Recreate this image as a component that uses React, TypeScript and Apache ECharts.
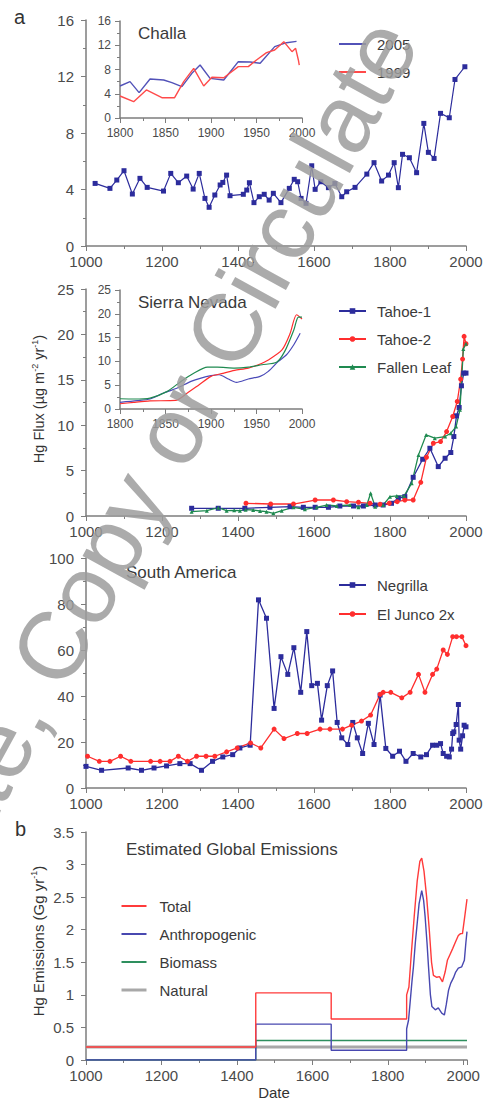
import React, { useEffect, useRef } from "react";
import * as echarts from "echarts";

// ---------- DATA ----------
// Panel a, Challa (main, 2005 core) [year, Hg flux]
const challaMain: number[][] = [
  [1024, 4.43], [1063, 4.08], [1081, 4.67], [1100, 5.33], [1122, 3.68], [1142, 4.79], [1161, 4.15],
  [1204, 3.89], [1223, 5.14], [1243, 4.48], [1265, 4.95], [1282, 4.03], [1298, 5.14], [1313, 3.37],
  [1324, 2.74], [1339, 3.61], [1353, 4.32], [1360, 4.5], [1370, 5.02], [1379, 3.56], [1414, 3.66],
  [1423, 3.96], [1430, 4.48], [1442, 3.07], [1456, 3.49], [1469, 3.66], [1482, 3.25], [1493, 3.73],
  [1513, 3.07], [1535, 4.08], [1548, 4.72], [1557, 4.55], [1566, 3.37], [1579, 3.02], [1594, 5.68],
  [1603, 4.01], [1618, 4.55], [1638, 4.13], [1655, 4.43], [1673, 3.49], [1686, 3.84], [1708, 4.15],
  [1739, 5.09], [1758, 5.9], [1778, 4.6], [1796, 5.02], [1811, 5.9], [1822, 4.13], [1833, 6.49],
  [1851, 6.25], [1870, 5.19], [1889, 8.68], [1901, 6.63], [1916, 6.2], [1933, 9.39], [1956, 9.08],
  [1971, 11.79], [1997, 12.69],
];
const challaInset2005: number[][] = [
  [1800, 5.28], [1811, 6.0], [1821, 4.18], [1833, 6.43], [1848, 6.27], [1857, 5.83], [1868, 5.17],
  [1879, 7.37], [1888, 8.74], [1899, 6.54], [1914, 6.27], [1930, 9.29], [1943, 9.24], [1954, 9.02],
  [1970, 11.77], [1983, 12.42], [1994, 12.64],
];
const challaInset1999: number[][] = [
  [1800, 3.63], [1815, 2.69], [1829, 4.62], [1846, 3.35], [1860, 3.35], [1870, 5.99], [1881, 8.19],
  [1892, 5.28], [1901, 6.71], [1914, 6.65], [1930, 8.47], [1941, 8.47], [1950, 9.57], [1961, 10.78],
  [1970, 11.21], [1980, 12.59], [1989, 10.94], [1993, 11.49], [1996, 9.57], [1997, 8.74],
];

// Sierra Nevada
const tahoe1: number[][] = [
  [1278, 0.85], [1348, 0.85], [1418, 0.85], [1484, 0.96], [1537, 1.03], [1572, 0.96], [1603, 0.96],
  [1638, 0.96], [1668, 1.1], [1704, 1.1], [1730, 1.1], [1761, 1.21], [1782, 1.21], [1804, 1.4],
  [1822, 1.95], [1839, 2.13], [1861, 4.26], [1886, 6.25], [1905, 7.46], [1927, 5.44], [1945, 6.36],
  [1960, 6.99], [1968, 8.75], [1975, 11.03], [1982, 11.95], [1988, 14.34], [1994, 15.74], [2000, 15.74],
];
const tahoe2: number[][] = [
  [1421, 1.4], [1486, 1.32], [1546, 1.32], [1603, 1.76], [1651, 1.76], [1686, 1.58], [1717, 1.51],
  [1747, 1.4], [1774, 1.29], [1798, 1.4], [1819, 1.58], [1839, 1.76], [1861, 1.76], [1881, 3.71],
  [1896, 6.47], [1914, 8.01], [1933, 8.2], [1949, 9.3], [1965, 10.96], [1977, 12.61], [1986, 15.07],
  [1991, 17.28], [1995, 19.78], [2000, 18.97],
];
const fallenLeaf: number[][] = [
  [1278, 0.48], [1318, 0.59], [1348, 0.92], [1370, 0.59], [1390, 0.62], [1405, 0.59], [1420, 0.7],
  [1440, 0.66], [1458, 0.55], [1475, 0.48], [1493, 0.29], [1515, 0.59], [1546, 0.96], [1576, 0.74],
  [1607, 0.96], [1633, 1.21], [1660, 1.1], [1695, 1.21], [1717, 0.96], [1739, 1.21], [1749, 2.5],
  [1761, 1.03], [1782, 1.21], [1800, 2.13], [1818, 2.21], [1837, 2.21], [1857, 3.6], [1875, 6.73],
  [1895, 8.93], [1918, 8.57], [1945, 8.75], [1960, 9.12], [1974, 9.85], [1984, 11.69], [1993, 18.38],
  [2000, 18.97],
];
const tahoe1Inset: number[][] = [
  [1800, 1.4], [1819, 1.75], [1833, 2.1], [1848, 3.35], [1863, 4.4], [1878, 5.8], [1889, 6.5],
  [1900, 7.0], [1909, 7.2], [1919, 6.3], [1928, 5.6], [1941, 6.3], [1954, 6.85], [1963, 7.9],
  [1974, 10.0], [1983, 11.4], [1991, 13.5], [1998, 15.9],
];
const tahoe2Inset: number[][] = [
  [1800, 1.1], [1815, 1.4], [1833, 1.7], [1861, 1.8], [1874, 3.35], [1887, 5.1], [1900, 6.85],
  [1913, 7.5], [1926, 8.1], [1941, 8.6], [1952, 9.3], [1963, 10.3], [1978, 12.4], [1987, 15.9],
  [1994, 19.8], [2000, 18.9],
];
const fallenLeafInset: number[][] = [
  [1800, 2.15], [1815, 2.1], [1833, 2.3], [1852, 3.7], [1867, 5.8], [1881, 7.5], [1896, 8.8],
  [1907, 8.8], [1926, 8.6], [1941, 8.8], [1956, 9.3], [1972, 9.8], [1981, 12.1], [1991, 16.6],
  [1996, 19.3], [2000, 19.3],
];

// South America
const negrilla: number[][] = [
  [1000, 9.4], [1041, 7.7], [1111, 8.7], [1146, 7.7], [1179, 8.7], [1212, 9.6], [1247, 10.6],
  [1274, 10.6], [1304, 7.7], [1333, 11.6], [1360, 13.5], [1386, 14.5], [1405, 17.4], [1432, 18.6],
  [1454, 81.8], [1475, 73.8], [1495, 34.6], [1513, 57.1], [1531, 49.4], [1547, 61.0], [1565, 41.6],
  [1581, 68.0], [1594, 44.5], [1609, 45.5], [1620, 29.5], [1635, 44.5], [1649, 50.9], [1661, 28.5],
  [1673, 21.8], [1689, 18.9], [1702, 28.5], [1714, 21.8], [1728, 15.0], [1743, 28.1], [1758, 18.9],
  [1774, 40.4], [1789, 17.2], [1807, 13.8], [1825, 16.0], [1842, 11.6], [1861, 15.0], [1881, 13.5],
  [1896, 14.5], [1912, 18.6], [1923, 18.6], [1933, 19.3], [1940, 15.0], [1949, 13.8], [1956, 13.5],
  [1962, 16.9], [1965, 23.7], [1968, 24.4], [1974, 27.6], [1980, 36.3], [1982, 20.8], [1986, 16.9],
  [1991, 22.7], [1995, 27.3], [2000, 26.6],
];
const elJunco: number[][] = [
  [1004, 13.8], [1035, 11.6], [1063, 11.6], [1091, 13.8], [1118, 11.6], [1170, 11.6], [1195, 11.6],
  [1221, 11.6], [1243, 13.8], [1267, 11.6], [1291, 13.8], [1316, 13.8], [1339, 13.8], [1370, 15.7],
  [1398, 17.4], [1433, 19.6], [1460, 17.4], [1495, 25.6], [1521, 21.5], [1556, 23.7], [1582, 23.7],
  [1616, 25.6], [1642, 25.6], [1675, 25.6], [1699, 27.3], [1725, 29.1], [1749, 31.7], [1774, 40.7],
  [1782, 41.6], [1802, 41.6], [1831, 39.2], [1853, 41.6], [1875, 49.4], [1892, 41.6], [1912, 49.4],
  [1923, 51.7], [1940, 60.0], [1951, 58.1], [1965, 65.8], [1975, 65.8], [1989, 65.8], [2000, 61.9],
];

// Estimated global emissions (Gg/yr)
const emisTotal: number[][] = [
  [1000, 0.2], [1450, 0.2], [1450, 1.03], [1650, 1.03], [1650, 0.63], [1850, 0.63], [1850, 1.0],
  [1856, 1.12], [1862, 1.6], [1870, 2.2], [1878, 2.75], [1885, 3.05], [1890, 3.1], [1896, 2.9],
  [1903, 2.5], [1910, 2.0], [1916, 1.5], [1921, 1.3], [1930, 1.27], [1937, 1.28], [1945, 1.2],
  [1952, 1.35], [1958, 1.53], [1965, 1.62], [1972, 1.71], [1980, 1.82], [1987, 1.91], [1993, 1.94],
  [1998, 1.94], [2004, 2.2], [2010, 2.47],
];
const emisAnthro: number[][] = [
  [1000, 0], [1450, 0], [1450, 0.55], [1650, 0.55], [1650, 0.15], [1850, 0.15], [1850, 0.48],
  [1855, 0.61], [1859, 0.87], [1864, 1.2], [1868, 1.43], [1873, 1.8], [1877, 2.04], [1883, 2.4],
  [1890, 2.6], [1895, 2.45], [1899, 2.2], [1904, 1.8], [1908, 1.43], [1913, 1.0], [1917, 0.82],
  [1926, 0.77], [1934, 0.8], [1943, 0.72], [1950, 0.69], [1955, 0.85], [1961, 1.07], [1967, 1.18],
  [1974, 1.26], [1980, 1.35], [1987, 1.41], [1996, 1.43], [2003, 1.53], [2007, 1.8], [2010, 1.97],
];
const emisBiomass: number[][] = [[1000, 0], [1450, 0], [1450, 0.3], [2010, 0.3]];
const emisNatural: number[][] = [[1000, 0.2], [2010, 0.2]];

// ---------- STYLE ----------
const FONT = "'Liberation Sans', Arial, Helvetica, sans-serif";
const AXIS = "#7d7d7d";
const LABEL = "#4a4a4a";
const BLUE = "#2c2c9c";
const RED = "#ff2e2e";
const GREEN = "#1f8a50";

function xAx(gridIndex: number, min: number, max: number, interval: number, fs: number, margin: number) {
  return {
    type: "value", gridIndex, min, max, interval,
    axisLine: { show: true, onZero: false, lineStyle: { color: AXIS, width: 1.5 } },
    axisTick: { show: true, length: 5, lineStyle: { color: AXIS } },
    minorTick: { show: true, splitNumber: 2, length: 3, lineStyle: { color: AXIS } },
    splitLine: { show: false },
    axisLabel: {
      color: LABEL, fontSize: fs, fontFamily: FONT, margin,
      formatter: (v: number) => (v % interval === 0 && v <= 2000 ? String(v) : ""),
    },
  };
}
function yAx(gridIndex: number, min: number, max: number, interval: number, fs: number, margin: number, minor = true) {
  return {
    type: "value", gridIndex, min, max, interval,
    axisLine: { show: true, onZero: false, lineStyle: { color: AXIS, width: 1.5 } },
    axisTick: { show: true, length: 5, lineStyle: { color: AXIS } },
    minorTick: { show: minor, splitNumber: 2, length: 3, lineStyle: { color: AXIS } },
    splitLine: { show: false },
    axisLabel: { color: LABEL, fontSize: fs, fontFamily: FONT, margin },
  };
}

function lineSeries(name: string, data: number[][], xi: number, color: string, opts: any = {}) {
  return {
    type: "line", name, data, xAxisIndex: xi, yAxisIndex: xi,
    symbol: opts.symbol ?? "none", symbolSize: opts.symbolSize ?? 5,
    showSymbol: opts.symbol ? true : false,
    smooth: opts.smooth ?? false,
    lineStyle: { color, width: opts.width ?? 1.3 },
    itemStyle: { color },
    z: opts.z ?? 2,
    silent: true,
  };
}

const legendText = { color: "#3a3a3a", fontSize: 15, fontFamily: FONT, lineHeight: 16, padding: [0, 0, 0, 6] };

export default function App() {
  const ref = useRef<HTMLDivElement>(null);
  useEffect(() => {
    if (!ref.current) return;
    const chart = echarts.init(ref.current, undefined, { renderer: "svg" });
    const grids = [
      { left: 86, top: 20, width: 380, height: 226 },
      { left: 120, top: 21, width: 182, height: 97 },
      { left: 86, top: 289, width: 380, height: 227 },
      { left: 120, top: 290, width: 182, height: 119 },
      { left: 86, top: 558, width: 380, height: 230 },
      { left: 86, top: 832, width: 381, height: 228 },
    ].map((g) => ({ ...g, containLabel: false, outerBoundsMode: "none" }));

    const option: any = {
      animation: false,
      backgroundColor: "#ffffff",
      grid: grids,
      xAxis: [
        xAx(0, 1000, 2000, 200, 15, 8),
        xAx(1, 1800, 2000, 50, 12, 9),
        xAx(2, 1000, 2000, 200, 15, 8),
        xAx(3, 1800, 2000, 50, 12, 9),
        xAx(4, 1000, 2000, 200, 15, 8),
        xAx(5, 1000, 2010, 200, 15, 8),
      ],
      yAxis: [
        yAx(0, 0, 16, 4, 15, 12),
        yAx(1, 0, 16, 4, 12, 9),
        yAx(2, 0, 25, 5, 15, 12),
        yAx(3, 0, 25, 5, 12, 9),
        yAx(4, 0, 100, 20, 15, 12),
        yAx(5, 0, 3.5, 0.5, 15, 12, false),
      ],
      legend: [
        {
          data: ["2005", "1999"], orient: "vertical", left: 333, top: 31, itemWidth: 27, itemHeight: 7,
          itemGap: 12, textStyle: legendText, selectedMode: false, itemStyle: { opacity: 0 },
        },
        {
          data: ["Tahoe-1", "Tahoe-2", "Fallen Leaf"], orient: "vertical", left: 333, top: 298, itemWidth: 27,
          itemHeight: 7, itemGap: 12, textStyle: legendText, selectedMode: false,
        },
        {
          data: ["Negrilla", "El Junco 2x"], orient: "vertical", left: 333, top: 572, itemWidth: 27,
          itemHeight: 7, itemGap: 13, textStyle: legendText, selectedMode: false,
        },
        {
          data: ["Total", "Anthropogenic", "Biomass", { name: "Natural", lineStyle: { width: 3 } }],
          orient: "vertical", left: 115, top: 893,
          itemWidth: 25, itemHeight: 7, itemGap: 12, textStyle: { ...legendText, padding: [0, 0, 0, 8] },
          selectedMode: false, itemStyle: { opacity: 0 },
        },
      ],
      series: [
        lineSeries("Challa 2005 core", challaMain, 0, BLUE, { symbol: "rect", symbolSize: 5, width: 1.2 }),
        lineSeries("2005", challaInset2005, 1, "#5252b8", { width: 1.4 }),
        lineSeries("1999", challaInset1999, 1, "#ff4a4a", { width: 1.4 }),
        lineSeries("Tahoe-1", tahoe1, 2, BLUE, { symbol: "rect", symbolSize: 5 }),
        lineSeries("Tahoe-2", tahoe2, 2, RED, { symbol: "circle", symbolSize: 5 }),
        lineSeries("Fallen Leaf", fallenLeaf, 2, GREEN, { symbol: "triangle", symbolSize: 4 }),
        lineSeries("Tahoe-1", tahoe1Inset, 3, "#4a4ab8", { smooth: 0.25, width: 1.2 }),
        lineSeries("Tahoe-2", tahoe2Inset, 3, RED, { smooth: 0.25, width: 1.2 }),
        lineSeries("Fallen Leaf", fallenLeafInset, 3, GREEN, { smooth: 0.25, width: 1.2 }),
        lineSeries("Negrilla", negrilla, 4, BLUE, { symbol: "rect", symbolSize: 5 }),
        lineSeries("El Junco 2x", elJunco, 4, RED, { symbol: "circle", symbolSize: 5 }),
        lineSeries("Natural", emisNatural, 5, "#a8a8a8", { width: 3 }),
        lineSeries("Biomass", emisBiomass, 5, "#2e8f5e", { width: 1.4 }),
        lineSeries("Anthropogenic", emisAnthro, 5, "#4848b0", { width: 1.4 }),
        lineSeries("Total", emisTotal, 5, "#ff3b3b", { width: 1.4, z: 3 }),
      ],
      graphic: {
        elements: [
          { type: "text", left: 14, top: 7, style: { text: "a", fontSize: 20, fontFamily: FONT, fill: "#333" } },
          { type: "text", left: 15, top: 819, style: { text: "b", fontSize: 20, fontFamily: FONT, fill: "#333" } },
          { type: "text", x: 138, y: 33, style: { text: "Challa", fontSize: 17, fontFamily: FONT, fill: "#3a3a3a", textVerticalAlign: "middle" } },
          { type: "text", x: 138, y: 302, style: { text: "Sierra Nevada", fontSize: 17, fontFamily: FONT, fill: "#3a3a3a", textVerticalAlign: "middle" } },
          { type: "text", x: 126, y: 572, style: { text: "South America", fontSize: 17, fontFamily: FONT, fill: "#3a3a3a", textVerticalAlign: "middle" } },
          { type: "text", x: 126, y: 849, style: { text: "Estimated Global Emissions", fontSize: 17, fontFamily: FONT, fill: "#3a3a3a", textVerticalAlign: "middle" } },
          {
            type: "text", x: 39, y: 399, rotation: Math.PI / 2,
            style: {
              text: "{a|Hg Flux (µg m}{s|-2}{a| yr}{s|-1}{a|)}",
              textAlign: "center", textVerticalAlign: "middle",
              rich: {
                a: { fontSize: 14.5, fontFamily: FONT, fill: "#333", color: "#333" },
                s: { fontSize: 9, fontFamily: FONT, fill: "#333", color: "#333", verticalAlign: "top", padding: [0, 0, 8, 0] },
              },
            },
          },
          {
            type: "text", x: 38, y: 941, rotation: Math.PI / 2,
            style: {
              text: "{a|Hg Emissions (Gg yr}{s|-1}{a|)}",
              textAlign: "center", textVerticalAlign: "middle",
              rich: {
                a: { fontSize: 15, fontFamily: FONT, fill: "#333", color: "#333" },
                s: { fontSize: 9, fontFamily: FONT, fill: "#333", color: "#333", verticalAlign: "top", padding: [0, 0, 8, 0] },
              },
            },
          },
          { type: "text", x: 274, y: 1092, style: { text: "Date", fontSize: 15, fontFamily: FONT, fill: "#333", textAlign: "center", textVerticalAlign: "middle" } },
          {
            type: "text", x: -182, y: 1075, rotation: (61.3 * Math.PI) / 180, z: 100, silent: true,
            style: {
              text: "Duplicate, Copy or Circulate", fontSize: 96, fontFamily: FONT,
              fill: "#9c9c9c", opacity: 0.85, textAlign: "left", textVerticalAlign: "middle",
            },
          },
        ],
      },
    };
    chart.setOption(option);
    return () => chart.dispose();
  }, []);
  return (
    <div
      ref={ref}
      style={{ position: "fixed", left: 0, top: 0, width: 487, height: 1101, background: "#fff" }}
    />
  );
}
